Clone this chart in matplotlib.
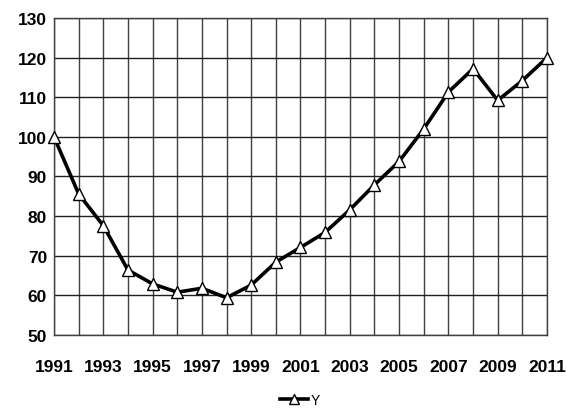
import matplotlib
matplotlib.use("Agg")
import matplotlib.pyplot as plt

years = list(range(1991, 2012))
y_values = [100, 85.6, 77.6, 66.4, 62.9, 60.8, 61.8, 59.4, 62.6, 68.4,
            72.1, 75.9, 81.6, 87.9, 93.8, 102.0, 111.3, 117.2, 109.2, 114.2, 120.0]
x_ticks = list(range(1991, 2012, 2))
y_ticks = list(range(50, 131, 10))

plt.rcParams['font.family'] = ['Liberation Sans', 'DejaVu Sans']

fig = plt.figure(figsize=(5.67, 4.10), dpi=100)
ax = fig.add_axes([54 / 567, 1 - 336 / 410, (547 - 54) / 567, (336 - 19) / 410])

ax.plot(years, y_values, color="black", linewidth=2.6, marker="^",
        markersize=9, markerfacecolor="white", markeredgecolor="black",
        markeredgewidth=1.0, label="Y", clip_on=False, zorder=3)

ax.set_xlim(1991, 2011)
ax.set_ylim(50, 130)
ax.set_xticks(years, minor=True)
ax.set_xticks(x_ticks)
ax.set_yticks(y_ticks)
ax.set_xticklabels([str(t) for t in x_ticks], fontweight="bold", fontsize=12.5)
ax.set_yticklabels([str(t) for t in y_ticks], fontweight="bold", fontsize=12.5)
ax.tick_params(which="both", length=0)
ax.tick_params(axis="x", pad=17)
ax.tick_params(axis="y", pad=5)

ax.grid(True, which="both", axis="x", color="#404040", linewidth=1.0)
ax.grid(True, which="major", axis="y", color="#202020", linewidth=1.0)
for s in ax.spines.values():
    s.set_color("#404040")
    s.set_linewidth(1.0)

fig.legend(loc="center", bbox_to_anchor=(300 / 567, 1 - 401 / 410),
           frameon=False, fontsize=10, handlelength=2.0, handletextpad=0.2,
           markerscale=0.8)

fig.savefig("out.png", dpi=100)
